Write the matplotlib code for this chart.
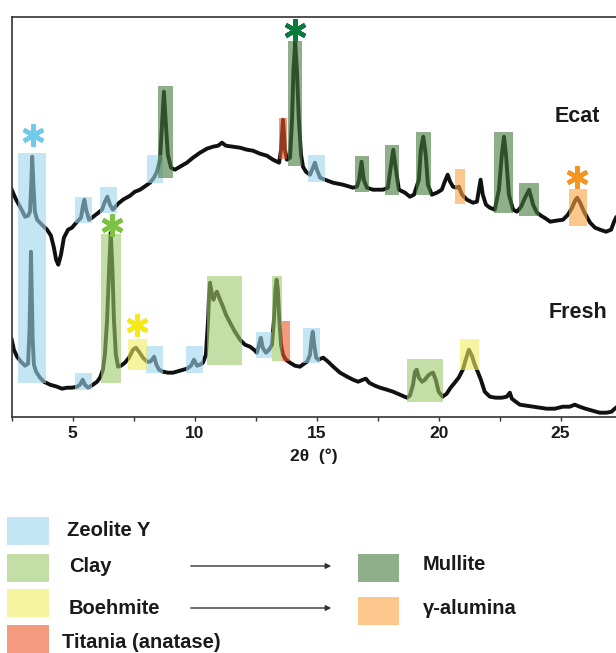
import matplotlib.pyplot as plt
from matplotlib.patches import Rectangle

plt.rcParams['font.family'] = ['Liberation Sans', 'DejaVu Sans']
plt.rcParams['font.weight'] = 'bold'

# XRD traces (2theta in degrees, intensity in arbitrary units)
ecat_2theta = [2.50, 2.68, 2.84, 3.05, 3.17, 3.25, 3.30, 3.34, 3.39, 3.45, 3.54, 3.74, 3.95, 4.11,
               4.23, 4.32, 4.41, 4.52, 4.64, 4.81, 4.97, 5.18, 5.34, 5.42, 5.48, 5.55, 5.67, 5.79,
               6.00, 6.20, 6.32, 6.42, 6.53, 6.65, 6.86, 7.06, 7.35, 7.55, 7.76, 8.00, 8.17, 8.33,
               8.45, 8.58, 8.66, 8.74, 8.82, 8.90, 9.03, 9.19, 9.40, 9.68, 9.93, 10.22, 10.50,
               10.75, 10.96, 11.12, 11.28, 11.57, 11.86, 12.14, 12.39, 12.68, 12.96, 13.21, 13.46,
               13.54, 13.62, 13.70, 13.78, 13.91, 13.99, 14.05, 14.12, 14.19, 14.27, 14.36, 14.44,
               14.56, 14.73, 14.85, 14.93, 15.01, 15.14, 15.34, 15.67, 16.08, 16.49, 16.65, 16.74,
               16.84, 16.93, 17.06, 17.31, 17.72, 17.92, 18.05, 18.14, 18.25, 18.37, 18.62, 18.82,
               18.99, 19.19, 19.27, 19.37, 19.47, 19.56, 19.72, 19.93, 20.13, 20.25, 20.37, 20.47,
               20.59, 20.71, 20.83, 20.96, 21.16, 21.41, 21.57, 21.65, 21.72, 21.81, 21.94, 22.10,
               22.30, 22.47, 22.59, 22.68, 22.76, 22.88, 23.05, 23.21, 23.38, 23.54, 23.71, 23.87,
               24.03, 24.20, 24.40, 24.57, 24.81, 25.10, 25.30, 25.47, 25.59, 25.68, 25.80, 25.96,
               26.21, 26.41, 26.62, 26.86, 27.07, 27.19, 27.27]
ecat_int = [227, 217, 210, 200, 201, 205, 232, 260, 232, 205, 197, 192, 187, 181,
            169, 157, 152, 162, 179, 187, 189, 195, 199, 211, 217, 207, 197, 199,
            203, 207, 215, 220, 212, 207, 213, 217, 221, 225, 227, 231, 234, 239,
            245, 257, 292, 325, 292, 262, 249, 247, 250, 254, 259, 264, 268,
            270, 271, 274, 271, 270, 269, 267, 266, 263, 261, 257, 254,
            267, 297, 267, 257, 259, 297, 347, 375, 347, 297, 262, 250,
            245, 242, 249, 254, 247, 239, 237, 234, 232, 229, 230, 237,
            255, 237, 229, 227, 227, 229, 252, 267, 247, 227, 224, 220,
            222, 237, 267, 280, 262, 232, 222, 224, 227, 235, 242, 235,
            230, 229, 230, 222, 217, 214, 215, 227, 237, 222, 212, 209,
            207, 227, 262, 280, 262, 222, 207, 205, 210, 219, 227, 212,
            204, 201, 198, 195, 196, 197, 202, 209, 216, 219, 214, 205,
            194, 189, 187, 185, 187, 195, 199]

fresh_2theta = [2.50, 2.59, 2.72, 2.88, 3.05, 3.17, 3.23, 3.26, 3.29, 3.32, 3.36, 3.41, 3.50, 3.66,
                3.82, 4.07, 4.36, 4.56, 4.77, 4.97, 5.18, 5.30, 5.41, 5.50, 5.63, 5.83, 6.00, 6.12,
                6.24, 6.32, 6.41, 6.49, 6.56, 6.63, 6.69, 6.77, 6.86, 6.98, 7.14, 7.31, 7.47, 7.59,
                7.72, 7.88, 8.05, 8.17, 8.25, 8.34, 8.43, 8.54, 8.70, 8.91, 9.11, 9.40, 9.68, 9.85,
                9.97, 10.10, 10.22, 10.34, 10.46, 10.55, 10.59, 10.63, 10.71, 10.77, 10.83, 10.91,
                11.04, 11.16, 11.28, 11.45, 11.65, 11.86, 12.06, 12.27, 12.43, 12.55, 12.64, 12.71,
                12.79, 12.92, 13.05, 13.17, 13.25, 13.31, 13.36, 13.41, 13.47, 13.54, 13.62, 13.74,
                13.91, 14.11, 14.32, 14.48, 14.61, 14.73, 14.79, 14.84, 14.90, 14.98, 15.06, 15.27,
                15.47, 15.68, 15.96, 16.25, 16.49, 16.70, 16.90, 17.02, 17.15, 17.39, 17.60, 17.88,
                18.13, 18.41, 18.70, 18.82, 18.95, 19.03, 19.10, 19.19, 19.32, 19.44, 19.56, 19.67,
                19.77, 19.88, 20.00, 20.16, 20.33, 20.49, 20.66, 20.82, 20.99, 21.11, 21.24, 21.36,
                21.48, 21.60, 21.73, 21.89, 22.10, 22.34, 22.59, 22.79, 22.92, 23.00, 23.16, 23.33,
                23.61, 23.90, 24.15, 24.43, 24.76, 25.09, 25.37, 25.58, 25.78, 26.02, 26.31, 26.60,
                26.88, 27.09, 27.17, 27.27]
fresh_int = [77, 67, 60, 55, 51, 53, 87, 127, 165, 127, 77, 52, 45, 39,
             35, 32, 30, 28, 29, 29, 30, 32, 37, 32, 29, 32, 35, 39,
             47, 62, 97, 147, 184, 147, 97, 62, 50, 51, 54, 59, 67, 69,
             65, 59, 55, 55, 57, 60, 52, 47, 45, 44, 44, 46, 48, 51,
             57, 51, 52, 54, 62, 97, 122, 134, 122, 117, 122, 125,
             117, 110, 102, 94, 85, 77, 72, 70, 67, 64, 72, 79,
             69, 64, 67, 72, 97, 127, 137, 127, 97, 72, 62, 57,
             54, 51, 50, 53, 55, 62, 77, 85, 72, 59, 57, 59,
             55, 50, 44, 40, 37, 35, 37, 38, 34, 31, 29, 27,
             25, 22, 19, 21, 32, 45, 47, 39, 35, 37, 41, 43,
             44, 37, 25, 20, 23, 29, 34, 39, 47, 57, 67, 61,
             52, 45, 37, 25, 20, 19, 19, 20, 24, 18, 15, 12,
             11, 10, 9, 8, 8, 10, 10, 12, 10, 8, 6, 4,
             4, 5, 7, 9]

# highlighted reflections
box_phase = ['Zeolite Y', 'Zeolite Y', 'Zeolite Y', 'Zeolite Y', 'Zeolite Y', 'Zeolite Y',
             'Zeolite Y', 'Zeolite Y', 'Zeolite Y', 'Zeolite Y',
             'Clay', 'Clay', 'Clay', 'Clay', 'Boehmite', 'Boehmite',
             'Titania (anatase)', 'Titania (anatase)',
             'Mullite', 'Mullite', 'Mullite', 'Mullite', 'Mullite', 'Mullite', 'Mullite',
             'γ-alumina', 'γ-alumina']
box_start = [2.75, 5.09, 6.12, 8.05, 14.64, 5.09, 8.00, 9.64, 12.52, 14.44,
             6.16, 10.51, 13.17, 18.70, 7.27, 20.87,
             13.46, 13.58,
             8.50, 13.83, 16.57, 17.80, 19.07, 22.26, 23.29,
             20.67, 25.35]
box_end = [3.89, 5.79, 6.82, 8.70, 15.34, 5.79, 8.70, 10.34, 13.17, 15.14,
           6.98, 11.94, 13.58, 20.17, 8.05, 21.65,
           13.78, 13.91,
           9.11, 14.40, 17.14, 18.37, 19.69, 23.04, 24.11,
           21.09, 26.09]
box_low = [34, 194, 204, 234, 235, 27, 44, 44, 59, 54,
           34, 52, 56, 15, 47, 47,
           258, 56,
           239, 251, 225, 222, 222, 204, 201,
           213, 191]
box_high = [264, 220, 230, 262, 262, 44, 71, 71, 85, 89,
            183, 141, 141, 58, 78, 78,
            299, 96,
            331, 376, 261, 272, 285, 285, 234,
            248, 228]

# asterisks above the main reflections
star_2theta = [3.37, 6.61, 7.64, 14.11, 25.68]
star_int = [282, 192, 92, 387, 240]
star_colors = ['#6ECBEC', '#7DC243', '#F7EA10', '#0B7A3C', '#F7941D']

phase_colors = {'Zeolite Y': '#9DD5EB', 'Clay': '#9ECA69', 'Boehmite': '#F3EE61',
                'Titania (anatase)': '#EE5728', 'Mullite': '#447B3C', 'γ-alumina': '#FAA33F'}

fig = plt.figure(figsize=(6.16, 6.53), dpi=100)

# legend drawn in figure pixels
lax = fig.add_axes([0, 0, 1, 1])
lax.set_xlim(0, 616)
lax.set_ylim(653, 0)
lax.axis('off')
lax.patch.set_visible(False)

left_labels = ['Zeolite Y', 'Clay', 'Boehmite', 'Titania (anatase)']
left_top = [517, 554, 589, 625]
left_text = [(67, 530), (69, 566), (69, 609), (62, 642)]
for lab, top, (tx, ty) in zip(left_labels, left_top, left_text):
    lax.add_patch(Rectangle((7, top), 42, 28, facecolor=phase_colors[lab], alpha=0.6, lw=0))
    lax.text(tx, ty, lab, fontsize=14.5, fontweight='bold', va='center', ha='left', color='#1a1a1a')

right_labels = ['Mullite', 'γ-alumina']
right_top = [554, 597]
right_text = [(423, 565), (423, 609)]
for lab, top, (tx, ty) in zip(right_labels, right_top, right_text):
    lax.add_patch(Rectangle((358, top), 41, 28, facecolor=phase_colors[lab], alpha=0.6, lw=0))
    lax.text(tx, ty, lab, fontsize=14.5, fontweight='bold', va='center', ha='left', color='#1a1a1a')

for ay in [566, 608]:
    lax.annotate('', xy=(334, ay), xytext=(188, ay),
                 arrowprops=dict(arrowstyle='-|>', lw=1, color='#333333', mutation_scale=8))

# main XRD panel
ax = fig.add_axes([11.7 / 616, (653 - 416.7) / 653, 1 - 11.7 / 616, 400 / 653])
ax.plot(ecat_2theta, ecat_int, color='#111111', lw=2.8, zorder=2, solid_joinstyle='round')
ax.plot(fresh_2theta, fresh_int, color='#111111', lw=2.8, zorder=2, solid_joinstyle='round')

for ph, x0, x1, y0, y1 in zip(box_phase, box_start, box_end, box_low, box_high):
    ax.add_patch(Rectangle((x0, y0), x1 - x0, y1 - y0, facecolor=phase_colors[ph],
                           alpha=0.6, lw=0, zorder=3))

for sx, sy, sc in zip(star_2theta, star_int, star_colors):
    ax.plot(sx, sy, marker=(6, 2, 0), ms=16, mew=3.2, color=sc, zorder=4, clip_on=False,
            solid_capstyle='butt')

ax.text(25.7, 300, 'Ecat', ha='center', va='center', fontsize=15.5, fontweight='bold', color='#1a1a1a')
ax.text(25.7, 104, 'Fresh', ha='center', va='center', fontsize=15.5, fontweight='bold', color='#1a1a1a')

ax.set_xlim(2.5, 27.27)
ax.set_ylim(0, 400)
ax.set_yticks([])
ax.set_xticks([5, 10, 15, 20, 25])
ax.set_xticks([2.5, 7.5, 12.5, 17.5, 22.5], minor=True)
ax.tick_params(axis='x', which='both', direction='out', length=3, width=1, pad=4,
               labelsize=12.5, colors='#333333', labelcolor='#1a1a1a')
for lab in ax.get_xticklabels():
    lab.set_fontweight('bold')
ax.set_xlabel('2θ  (°)', fontsize=12.5, fontweight='bold', labelpad=5, color='#1a1a1a')
ax.spines['right'].set_visible(False)
for s in ['top', 'left', 'bottom']:
    ax.spines[s].set_color('#333333')
    ax.spines[s].set_linewidth(1.2)

plt.savefig('out.png', dpi=100)
